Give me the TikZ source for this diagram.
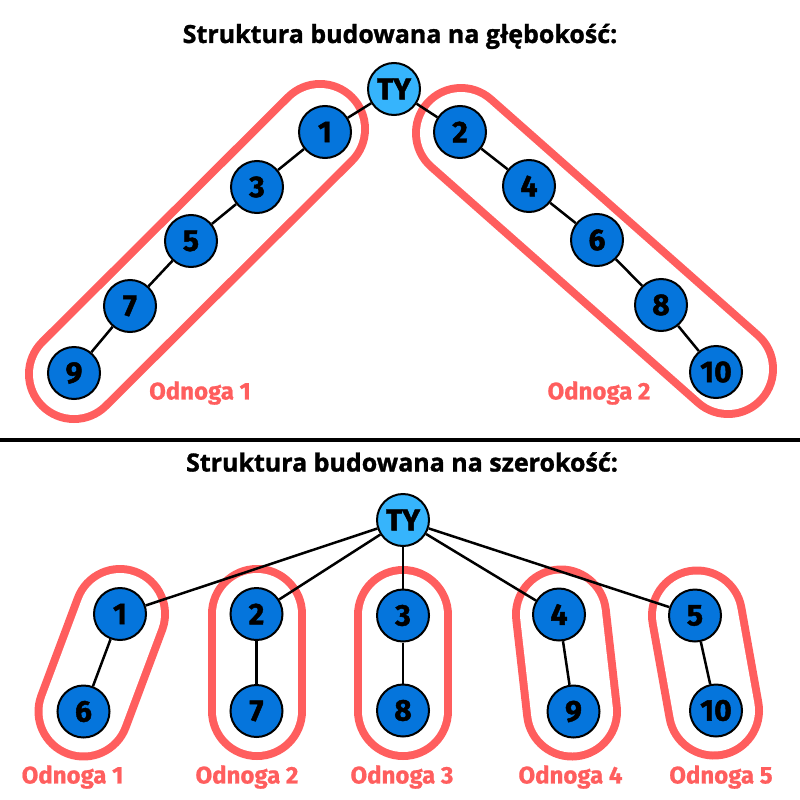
\documentclass[tikz,border=0pt]{standalone}
\usepackage{fontspec}
\setmainfont{Open Sans}
\newfontfamily\titlefont{Open Sans}[BoldFeatures={FakeBold=1.2}]
\newfontfamily\labfont{Fira Sans}[BoldFeatures={FakeBold=0.8}]
\newfontfamily\numfont{Fira Sans}[BoldFeatures={FakeBold=1.5}]
\definecolor{nodeblue}{HTML}{0575DC}
\definecolor{tyblue}{HTML}{36B4FC}
\definecolor{capred}{HTML}{FF5E5E}
\begin{document}
\begin{tikzpicture}[x=1pt,y=-1pt,
  vert/.style={circle,draw=black,line width=2pt,fill=nodeblue,minimum size=52pt,inner sep=0pt,
    font=\numfont\bfseries\fontsize{30}{30}\selectfont},
  tynode/.style={vert,fill=tyblue},
  edge/.style={draw=black,line width=2.5pt},
  capsule/.style={draw=capred,line width=8pt,double=white,double distance=82pt,line cap=round},
  lab/.style={text=capred,font=\labfont\bfseries\fontsize{24}{24}\selectfont,inner sep=0pt},
  ttl/.style={font=\titlefont\bfseries\fontsize{25}{25}\selectfont,anchor=base,inner sep=0pt}]
\useasboundingbox[fill=white] (0,0) rectangle (800,800);

% titles and separator
\node[ttl] (t1) at (400,43) {Struktura budowana na głębokość:};
\node[ttl] (t2) at (402,471.5) {Struktura budowana na szerokość:};
\coordinate (sepL) at (0,439.5);
\coordinate (sepR) at (800,439.5);
\draw[line width=4pt] (sepL) -- (sepR);

% ---------- top: depth ----------
\coordinate (cLa) at (74,374);
\coordinate (cLb) at (320,129);
\coordinate (cRa) at (461,133);
\coordinate (cRb) at (728,369);
\draw[capsule] (cLa) -- (cLb);
\draw[capsule] (cRa) -- (cRb);

\node[tynode] (ty) at (394,89) {TY};
\node[vert] (d1) at (325,132) {1};
\node[vert] (d3) at (257,187) {3};
\node[vert] (d5) at (191,241) {5};
\node[vert] (d7) at (130,306) {7};
\node[vert] (d9) at (74,373) {9};
\node[vert] (d2) at (460,132) {2};
\node[vert] (d4) at (529,186) {4};
\node[vert] (d6) at (597,240) {6};
\node[vert] (d8) at (661,305) {8};
\node[vert] (d10) at (716,372) {10};

\draw[edge] (ty) -- (d1);
\draw[edge] (d1) -- (d3);
\draw[edge] (d3) -- (d5);
\draw[edge] (d5) -- (d7);
\draw[edge] (d7) -- (d9);
\draw[edge] (ty) -- (d2);
\draw[edge] (d2) -- (d4);
\draw[edge] (d4) -- (d6);
\draw[edge] (d6) -- (d8);
\draw[edge] (d8) -- (d10);

\node[lab] (o1) at (200,393) {Odnoga 1};
\node[lab] (o2) at (599,393) {Odnoga 2};

% ---------- bottom: breadth ----------
\coordinate (b1a) at (120,614);
\coordinate (b1b) at (83.5,711.5);
\coordinate (b2a) at (257,614);
\coordinate (b2b) at (257,711);
\coordinate (b3a) at (403,615);
\coordinate (b3b) at (403,711);
\coordinate (b4a) at (561,614.5);
\coordinate (b4b) at (572,711.5);
\coordinate (b5a) at (697,615.5);
\coordinate (b5b) at (714,710.5);
\draw[capsule] (b1a) -- (b1b);
\draw[capsule] (b2a) -- (b2b);
\draw[capsule] (b3a) -- (b3b);
\draw[capsule] (b4a) -- (b4b);
\draw[capsule] (b5a) -- (b5b);

\node[tynode] (tyb) at (403,520) {TY};
\node[vert] (w1) at (120,614) {1};
\node[vert] (w2) at (256.5,614) {2};
\node[vert] (w3) at (403,615.5) {3};
\node[vert] (w4) at (559,614.5) {4};
\node[vert] (w5) at (695,615.5) {5};
\node[vert] (w6) at (83.5,711.5) {6};
\node[vert] (w7) at (256.5,711) {7};
\node[vert] (w8) at (403,710.5) {8};
\node[vert] (w9) at (573.5,711.5) {9};
\node[vert] (w10) at (716,710.5) {10};

\draw[edge] (tyb) -- (w1);
\draw[edge] (tyb) -- (w2);
\draw[edge] (tyb) -- (w3);
\draw[edge] (tyb) -- (w4);
\draw[edge] (tyb) -- (w5);
\draw[edge] (w1) -- (w6);
\draw[edge] (w2) -- (w7);
\draw[edge] (w3) -- (w8);
\draw[edge] (w4) -- (w9);
\draw[edge] (w5) -- (w10);

\node[lab] (p1) at (72.5,777) {Odnoga 1};
\node[lab] (p2) at (247,777) {Odnoga 2};
\node[lab] (p3) at (402,777) {Odnoga 3};
\node[lab] (p4) at (570.5,777) {Odnoga 4};
\node[lab] (p5) at (721,777) {Odnoga 5};
\end{tikzpicture}
\end{document}
